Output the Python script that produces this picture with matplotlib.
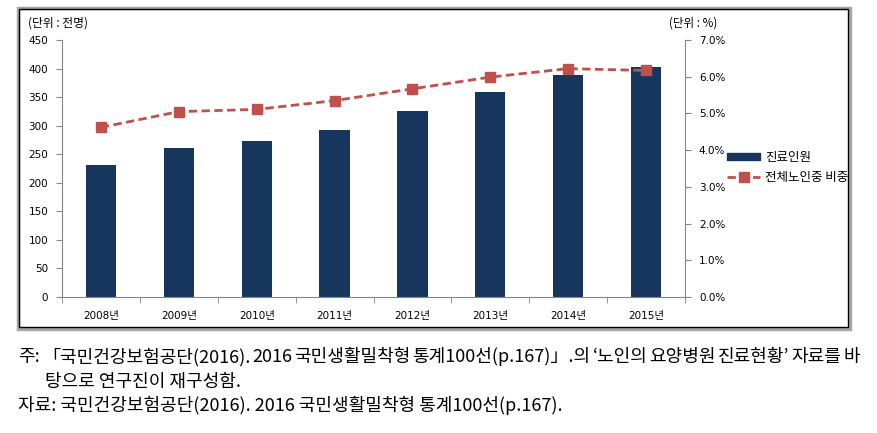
import numpy as np
import matplotlib.pyplot as plt
from matplotlib.patches import Rectangle
from matplotlib.lines import Line2D
from matplotlib.patches import Patch

years = ['2008년', '2009년', '2010년', '2011년', '2012년', '2013년', '2014년', '2015년']
patients = [231, 261, 273, 292, 326, 359, 389, 403]
share_pct = [4.62, 5.05, 5.11, 5.35, 5.67, 5.99, 6.22, 6.17]

left_ticks = [0, 50, 100, 150, 200, 250, 300, 350, 400, 450]
right_ticks = [0, 1, 2, 3, 4, 5, 6, 7]

note_line1 = '주: 「국민건강보험공단(2016). 2016 국민생활밀착형 통계100선(p.167)」.의 ‘노인의 요양병원 진료현황’ 자료를 바'
note_line2 = '탕으로 연구진이 재구성함.'
source_line = '자료: 국민건강보험공단(2016). 2016 국민생활밀착형 통계100선(p.167).'

fam = ['DejaVu Sans', 'Noto Sans CJK KR']
kr = ['Noto Sans CJK KR', 'DejaVu Sans']
bar_color = '#17365d'
line_color = '#c0504d'
axis_gray = '#868686'
W, H = 877, 433

fig = plt.figure(figsize=(8.77, 4.33), dpi=100)

# chart frame
fig.patches.append(Rectangle((18 / W, 1 - 329 / H), 832 / W, 321 / H,
                             transform=fig.transFigure, fill=False,
                             edgecolor='#a6a6a6', lw=2.5, zorder=0))
fig.patches.append(Rectangle((19 / W, 1 - 327 / H), 829 / W, 318 / H,
                             transform=fig.transFigure, fill=False,
                             edgecolor='black', lw=1.0, zorder=1))

ax = fig.add_axes([62 / W, 1 - 297 / H, 623 / W, 257 / H])
x = np.arange(len(years))
ax.bar(x, patients, width=0.39, color=bar_color, zorder=2)
ax.set_xlim(-0.5, len(years) - 0.5)
ax.set_ylim(0, 450)
ax.set_yticks(left_ticks)
ax.set_yticklabels([str(v) for v in left_ticks], family=fam, fontsize=7.5)
ax.set_xticks(x)
ax.set_xticklabels(years, family=fam, fontsize=7.5)
ax.tick_params(axis='x', length=0, pad=10)
ax.set_xticks(np.arange(-0.5, len(years)), minor=True)
ax.tick_params(axis='x', which='minor', length=4, color=axis_gray, direction='out')
ax.tick_params(axis='y', length=4, color=axis_gray, pad=6)
for s in ['top', 'right']:
    ax.spines[s].set_visible(False)
for s in ['left', 'bottom']:
    ax.spines[s].set_color(axis_gray)

ax2 = ax.twinx()
ax2.plot(x, share_pct, color=line_color, lw=2, linestyle=(0, (3, 1.6)),
         marker='s', markersize=7, markerfacecolor=line_color,
         markeredgecolor=line_color, zorder=3)
ax2.set_ylim(0, 7)
ax2.set_yticks(right_ticks)
ax2.set_yticklabels([f'{v:.1f}%' for v in right_ticks], family=fam, fontsize=7.5)
ax2.tick_params(axis='y', length=4, color=axis_gray, pad=6)
for s in ['top', 'left', 'bottom']:
    ax2.spines[s].set_visible(False)
ax2.spines['right'].set_color(axis_gray)

fig.text(28 / W, 1 - 23 / H, '(단위 : 전명)', family=kr, fontsize=8.5,
         va='center', ha='left')
fig.text(669 / W, 1 - 23 / H, '(단위 : %)', family=kr, fontsize=8.3,
         va='center', ha='left')

handles = [Patch(facecolor=bar_color, edgecolor=bar_color),
           Line2D([0], [0], color=line_color, lw=2, linestyle=(0, (3, 1.6)),
                  marker='s', markersize=7)]
fig.legend(handles, ['진료인원', '전체노인중 비중'], loc='upper left',
           bbox_to_anchor=(716 / W, 1 - 140 / H), frameon=False,
           prop={'family': kr, 'size': 9.0}, handlelength=2.6,
           handleheight=0.5, labelspacing=0.55, handletextpad=0.4)

# footnotes; first line justified to the full width like the source
foot = {'family': kr, 'fontsize': 13, 'va': 'center', 'ha': 'left'}
renderer = fig.canvas.get_renderer()
words = note_line1.split(' ')
texts = [fig.text(0, 1 - 357 / H, w, **foot) for w in words]
widths = [t.get_window_extent(renderer).width for t in texts]
x0, x1 = 18, 858
gap = max((x1 - x0 - sum(widths)) / (len(words) - 1), 2)
pos = x0
for t, w in zip(texts, widths):
    t.set_x(pos / W)
    pos += w + gap
fig.text(45 / W, 1 - 382 / H, note_line2, **foot)
fig.text(18 / W, 1 - 405 / H, source_line, **foot)

fig.savefig('out.png', dpi=100)
